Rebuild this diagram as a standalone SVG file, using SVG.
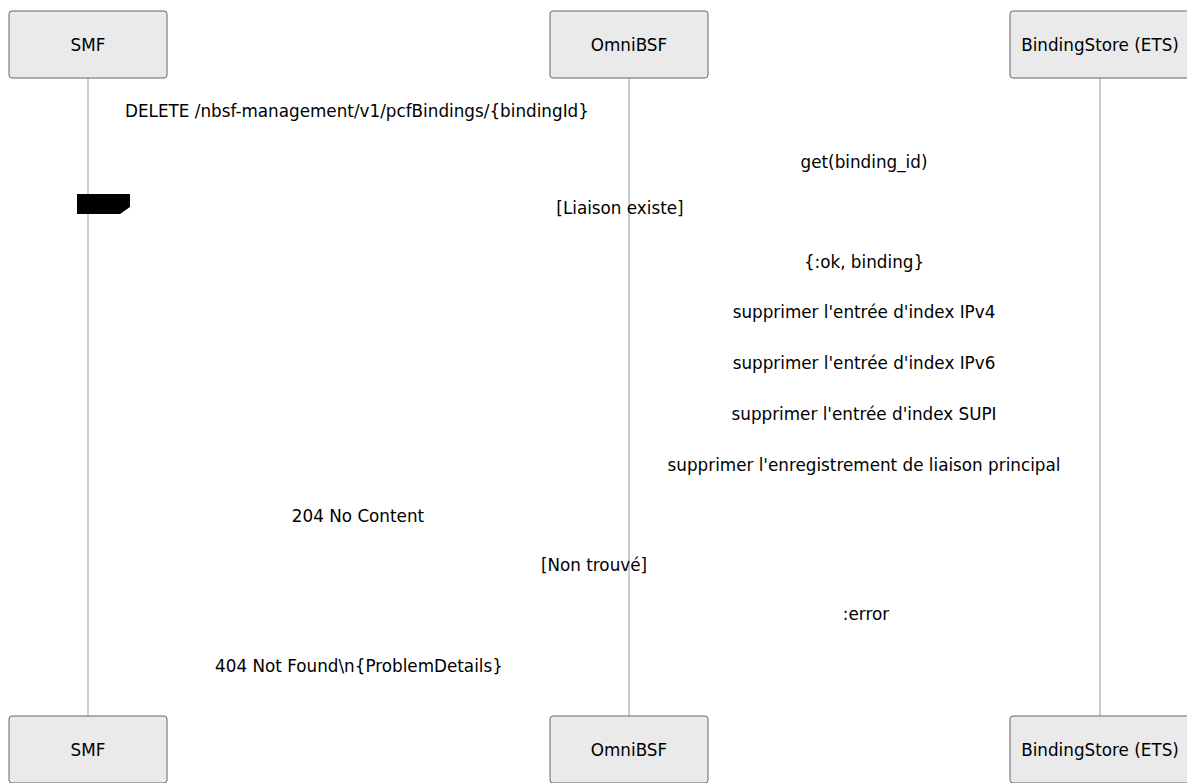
<svg xmlns="http://www.w3.org/2000/svg" width="1187" height="783" viewBox="0 0 1187 783">
<style>
.actor{fill:#eaeaea;stroke:#666;stroke-width:1}
.atext{font-family:"DejaVu Sans",sans-serif;font-size:16.8px;fill:#000;text-anchor:middle;dominant-baseline:central}
.life{stroke:#999;stroke-width:1}
.msg{font-family:"DejaVu Sans",sans-serif;font-size:16.8px;fill:#000;text-anchor:middle}
</style>
<rect width="1187" height="783" fill="#fff"/>
<g id="lifelines">
<line class="life" x1="88" y1="78" x2="88" y2="716"/>
<line class="life" x1="629" y1="78" x2="629" y2="716"/>
<line class="life" x1="1100" y1="78" x2="1100" y2="716"/>
</g>
<g id="actor-smf-top"><rect class="actor" x="9" y="11" width="158" height="67" rx="3"/><text class="atext" x="88" y="45">SMF</text></g>
<g id="actor-bsf-top"><rect class="actor" x="550" y="11" width="158" height="67" rx="3"/><text class="atext" x="629" y="45">OmniBSF</text></g>
<g id="actor-store-top"><rect class="actor" x="1010" y="11" width="180" height="67" rx="3"/><text class="atext" x="1100" y="45">BindingStore (ETS)</text></g>
<g id="actor-smf-bottom"><rect class="actor" x="9" y="716" width="158" height="67" rx="3"/><text class="atext" x="88" y="750">SMF</text></g>
<g id="actor-bsf-bottom"><rect class="actor" x="550" y="716" width="158" height="67" rx="3"/><text class="atext" x="629" y="750">OmniBSF</text></g>
<g id="actor-store-bottom"><rect class="actor" x="1010" y="716" width="180" height="67" rx="3"/><text class="atext" x="1100" y="750">BindingStore (ETS)</text></g>
<g id="alt-label"><polygon points="77,194 130,194 130,207 120,214 77,214" fill="#000"/></g>
<g id="messages">
<text class="msg" x="357" y="117">DELETE /nbsf-management/v1/pcfBindings/{bindingId}</text>
<text class="msg" x="864" y="168">get(binding_id)</text>
<text class="msg" x="620" y="214">[Liaison existe]</text>
<text class="msg" x="864" y="268">{:ok, binding}</text>
<text class="msg" x="864" y="318">supprimer l'entrée d'index IPv4</text>
<text class="msg" x="864" y="369">supprimer l'entrée d'index IPv6</text>
<text class="msg" x="864" y="420">supprimer l'entrée d'index SUPI</text>
<text class="msg" x="864" y="471">supprimer l'enregistrement de liaison principal</text>
<text class="msg" x="358" y="522">204 No Content</text>
<text class="msg" x="594" y="571">[Non trouvé]</text>
<text class="msg" x="866" y="620">:error</text>
<text class="msg" x="359" y="672">404 Not Found\n{ProblemDetails}</text>
</g>
</svg>
